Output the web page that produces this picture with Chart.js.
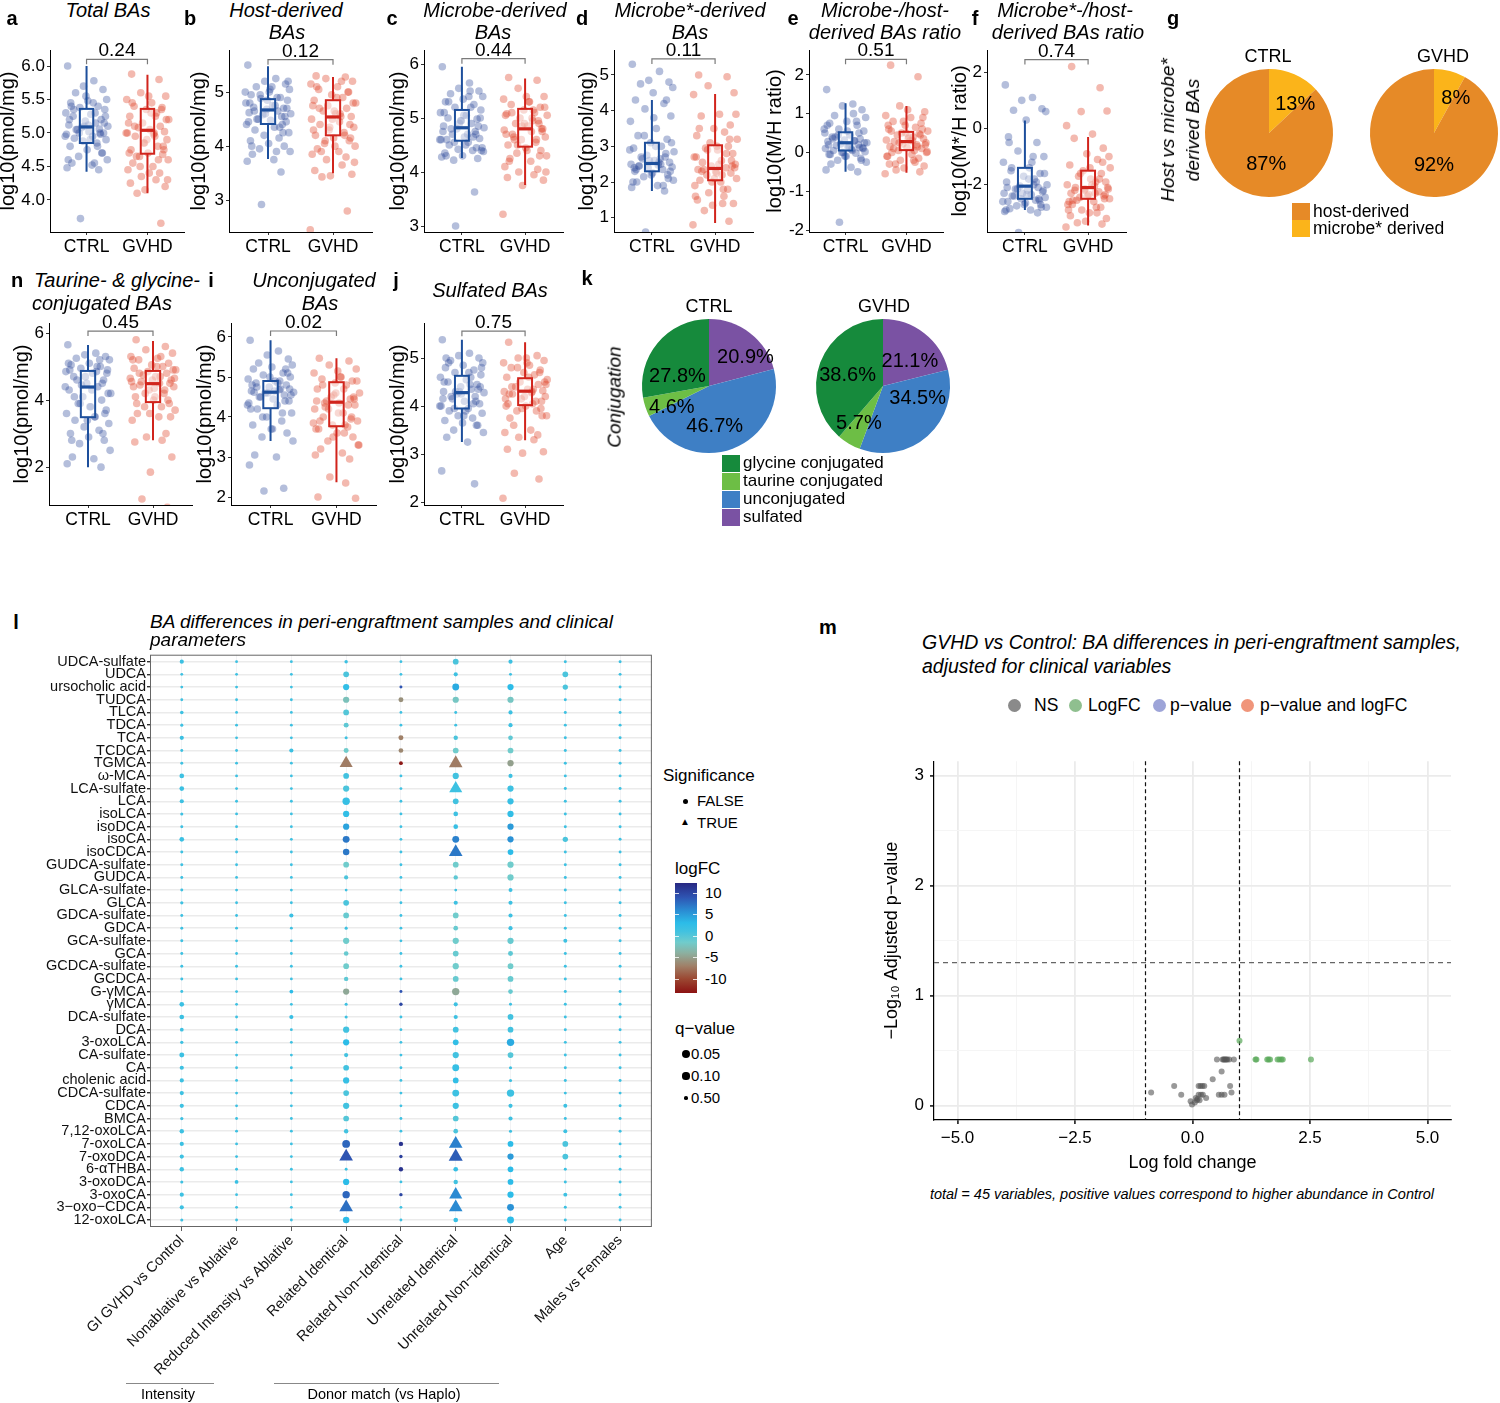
<!DOCTYPE html>
<html>
<head>
<meta charset="utf-8">
<title>Bile acids in GVHD</title>
<script src="https://cdn.jsdelivr.net/npm/chart.js@4.4.1/dist/chart.umd.min.js"></script>
<style>
  body { margin: 0; background: #fff; }
  #fig { position: relative; width: 1500px; height: 1403px; overflow: hidden; background: #fff;
         font-family: "Liberation Sans", Arial, Helvetica, sans-serif; color: #000; }
  #fig canvas { position: absolute; }
  .t { position: absolute; white-space: nowrap; line-height: 1.2; }
</style>
</head>
<body>
<div id="fig"></div>
<script>
const FONT = '"Liberation Sans", Arial, Helvetica, sans-serif';
Chart.defaults.font.family = FONT;
Chart.defaults.color = '#000';

// ---------- box panels a-f, n, i, j ----------
const groups = ['CTRL', 'GVHD'];

// sample values
const totalCtrl = [6.0,5.78,5.7,5.65,5.6,5.5,5.48,5.45,5.4,5.38,5.35,5.3,5.28,5.25,5.2,5.18,5.15,5.12,5.1,5.08,5.06,5.05,5.02,5.0,4.98,4.95,4.92,4.9,4.88,4.85,4.8,4.75,4.7,4.65,4.6,4.55,4.52,4.48,4.45,3.72,
  5.3,5.2,5.15,5.1,5.05,5.0,4.95,4.9,5.25,5.35,5.45,5.55,4.7,4.6,4.8,5.0,5.12,4.98,5.4,4.55];
const totalGvhd = [5.88,5.8,5.6,5.55,5.5,5.45,5.4,5.38,5.35,5.3,5.25,5.2,5.15,5.1,5.08,5.05,5.02,5.0,4.98,4.95,4.9,4.85,4.8,4.75,4.7,4.68,4.65,4.6,4.55,4.5,4.45,4.4,4.35,4.3,4.25,4.2,4.15,4.1,3.65,5.0,
  5.3,5.2,5.1,5.0,4.9,4.8,4.7,4.6,4.5,4.4,5.35,5.45,5.25,5.15,4.95,4.85,4.75,4.65,4.3,5.55];
const hostCtrl = [5.5,5.25,5.2,5.15,5.1,5.05,5.0,4.95,4.9,4.88,4.85,4.8,4.75,4.72,4.7,4.68,4.65,4.62,4.6,4.58,4.55,4.5,4.48,4.45,4.4,4.35,4.3,4.25,4.2,4.15,4.1,4.05,4.0,3.95,3.9,3.85,3.75,3.72,3.52,2.92,
  4.9,4.8,4.7,4.6,4.5,4.4,5.0,5.1,5.2,4.65,4.75,4.85,4.55,4.45,4.35,4.95,5.05,4.25,4.0,3.9];
const hostGvhd = [5.3,5.28,5.25,5.2,5.15,5.1,5.05,5.0,4.95,4.9,4.85,4.8,4.75,4.7,4.65,4.6,4.55,4.5,4.45,4.4,4.35,4.3,4.25,4.2,4.15,4.1,4.05,4.0,3.95,3.9,3.85,3.8,3.75,3.65,3.55,3.48,3.45,3.43,2.8,2.45,
  4.9,4.8,4.7,4.6,4.5,4.4,4.3,4.2,4.1,4.0,5.0,5.1,5.2,4.75,4.55,4.35,4.15,3.9,3.7,4.65];
const microbeCtrl = [5.95,5.65,5.55,5.5,5.45,5.4,5.35,5.3,5.25,5.2,5.15,5.1,5.05,5.0,4.98,4.95,4.9,4.85,4.82,4.8,4.75,4.7,4.65,4.62,4.6,4.55,4.5,4.45,4.42,4.4,4.35,4.3,4.25,4.22,4.38,4.6,4.7,4.28,3.63,3.0,
  5.2,5.1,5.0,4.9,4.8,4.7,4.6,4.5,4.4,5.3,5.4,4.95,4.85,4.75,4.65,4.55,5.05,4.45,4.3,5.5];
const microbeGvhd = [5.75,5.7,5.55,5.4,5.35,5.3,5.25,5.2,5.15,5.1,5.08,5.05,5.0,4.95,4.9,4.85,4.8,4.78,4.75,4.7,4.65,4.6,4.55,4.5,4.45,4.4,4.35,4.3,4.25,4.2,4.1,4.05,4.0,3.95,3.9,3.85,3.75,4.6,4.9,3.22,
  5.3,5.2,5.1,5.0,4.9,4.8,4.7,4.6,4.5,4.4,4.3,4.2,5.15,5.05,4.95,4.85,4.75,4.65,4.0,5.4];
const microbeStarCtrl = [5.3,5.1,4.85,4.8,4.75,4.65,4.5,4.3,4.2,4.05,3.85,3.7,3.5,3.3,3.2,3.1,3.0,2.95,2.85,2.75,2.7,2.65,2.6,2.55,2.5,2.48,2.45,2.42,2.4,2.35,2.3,2.25,2.2,2.15,2.05,2.0,1.9,1.85,1.75,0.6,
  2.5,2.4,2.3,2.6,2.7,2.8,2.9,3.0,3.1,2.45,2.55,2.2,2.1,2.0,1.9,3.3,3.8,4.3,2.35,2.65];
const microbeStarGvhd = [5.0,4.95,4.7,4.5,4.45,3.9,3.85,3.6,3.5,3.4,3.3,3.2,3.1,3.0,2.95,2.9,2.8,2.7,2.6,2.55,2.5,2.45,2.4,2.35,2.3,2.25,2.2,2.1,2.05,2.0,1.9,1.8,1.7,1.6,1.5,1.4,1.35,1.2,0.9,0.8,
  2.5,2.4,2.3,2.2,2.1,2.6,2.7,2.8,2.9,3.0,3.2,3.5,1.8,1.6,1.4,2.0,2.45,2.35,3.9,2.25];
const ratioCtrl = [1.62,1.25,1.2,1.1,0.95,0.9,0.8,0.75,0.7,0.6,0.55,0.5,0.45,0.4,0.35,0.32,0.3,0.28,0.25,0.22,0.2,0.18,0.15,0.12,0.1,0.08,0.05,0.02,0.0,-0.02,-0.05,-0.1,-0.15,-0.2,-0.25,-0.3,-0.38,-0.45,-0.5,-1.8,
  0.3,0.2,0.1,0.0,0.4,0.5,0.6,0.15,0.25,0.35,0.05,-0.1,-0.2,0.7,0.8,0.45,0.55,0.12,-0.05,1.0];
const ratioGvhd = [2.25,1.95,1.2,1.05,0.95,0.9,0.8,0.75,0.7,0.65,0.6,0.55,0.5,0.48,0.45,0.4,0.35,0.32,0.3,0.28,0.25,0.22,0.2,0.15,0.12,0.1,0.05,0.02,0.0,-0.05,-0.1,-0.15,-0.2,-0.25,-0.3,-0.35,-0.4,-0.45,-0.5,-0.55,
  0.3,0.2,0.1,0.4,0.5,0.6,0.7,0.15,0.25,0.35,0.45,0.55,0.05,-0.1,-0.2,0.8,0.9,-0.3,0.0,1.1];
const ratioStarCtrl = [1.55,1.1,1.0,0.7,0.65,0.6,0.3,-0.3,-0.5,-0.8,-1.0,-1.2,-1.4,-1.5,-1.6,-1.7,-1.8,-1.9,-2.0,-2.05,-2.1,-2.15,-2.2,-2.25,-2.3,-2.35,-2.4,-2.45,-2.5,-2.55,-2.6,-2.65,-2.7,-2.75,-2.8,-2.85,-2.9,-2.95,-3.0,-3.7,
  -2.0,-2.1,-2.2,-2.3,-2.4,-2.5,-2.6,-1.8,-1.6,-1.4,-1.2,-2.7,-2.8,-2.9,-1.9,-2.15,-2.35,-2.55,-0.5,-1.0];
const ratioStarGvhd = [2.2,1.45,0.6,0.62,0.1,-0.2,-0.35,-0.7,-0.9,-1.1,-1.3,-1.4,-1.5,-1.6,-1.7,-1.8,-1.9,-2.0,-2.05,-2.1,-2.15,-2.2,-2.25,-2.3,-2.35,-2.4,-2.45,-2.5,-2.55,-2.6,-2.7,-2.8,-2.9,-3.0,-3.1,-3.2,-3.3,-3.35,-3.4,-3.5,
  -2.0,-2.1,-2.2,-2.3,-2.4,-2.5,-2.6,-1.8,-1.6,-1.4,-1.2,-2.7,-2.8,-2.9,-1.9,-2.15,-2.35,-2.55,-1.0,-3.0];
const conjCtrl = [5.65,5.4,5.35,5.3,5.25,5.2,5.1,5.05,5.0,4.95,4.9,4.85,4.8,4.7,4.6,4.5,4.4,4.3,4.2,4.1,4.0,3.9,3.8,3.7,3.6,3.5,3.4,3.3,3.2,3.1,3.0,2.9,2.8,2.7,2.5,2.3,2.25,2.1,2.0,4.45,
  5.0,4.9,4.8,4.7,4.6,4.5,4.4,4.3,4.2,4.1,3.5,3.4,3.6,5.1,5.2,3.9,3.8,3.0,2.8,4.85];
const conjGvhd = [5.8,5.6,5.5,5.4,5.3,5.25,5.2,5.1,5.05,5.0,4.95,4.9,4.85,4.8,4.75,4.7,4.6,4.55,4.5,4.45,4.4,4.3,4.2,4.1,4.0,3.9,3.8,3.7,3.6,3.5,3.4,3.0,2.9,2.8,2.75,2.3,1.85,1.05,0.8,4.65,
  5.0,4.9,4.8,4.7,4.6,4.5,4.4,4.3,4.2,4.1,4.0,3.9,3.8,5.2,5.3,3.6,3.5,4.55,4.65,4.35];
const unconjCtrl = [5.92,5.65,5.55,5.45,5.35,5.3,5.25,5.2,5.1,5.05,5.0,4.95,4.9,4.85,4.8,4.75,4.7,4.65,4.62,4.6,4.55,4.5,4.45,4.4,4.35,4.3,4.2,4.1,4.0,3.9,3.8,3.7,3.6,3.5,3.4,3.05,3.0,2.8,2.22,2.15,
  4.9,4.8,4.7,4.6,4.5,4.4,4.3,4.65,4.55,4.75,4.85,5.0,5.1,4.2,4.1,4.0,3.7,5.2,4.62,4.68];
const unconjGvhd = [5.47,5.4,5.3,5.2,5.1,5.0,4.95,4.9,4.85,4.8,4.7,4.6,4.5,4.45,4.4,4.35,4.3,4.2,4.1,4.0,3.9,3.8,3.75,3.7,3.6,3.5,3.4,3.3,3.2,3.1,3.05,2.95,2.5,2.35,2.0,1.97,4.55,4.25,3.95,3.85,
  5.0,4.9,4.8,4.7,4.6,4.5,4.4,4.3,4.2,4.1,4.0,3.9,3.8,3.7,3.6,3.5,4.45,4.35,3.3,5.15];
const sulfCtrl = [5.38,5.1,5.05,5.0,4.95,4.9,4.85,4.8,4.75,4.7,4.65,4.6,4.55,4.5,4.45,4.4,4.35,4.3,4.28,4.25,4.2,4.15,4.1,4.05,4.0,3.95,3.9,3.85,3.8,3.75,3.7,3.65,3.6,3.5,3.45,3.35,3.25,2.65,2.38,4.3,
  4.6,4.5,4.4,4.3,4.2,4.1,4.0,3.9,4.8,4.9,4.7,4.25,4.35,4.15,4.05,3.95,3.8,3.6,5.0,4.45];
const sulfGvhd = [5.33,5.05,5.0,4.95,4.9,4.85,4.8,4.75,4.7,4.65,4.6,4.55,4.5,4.45,4.4,4.35,4.32,4.3,4.28,4.25,4.2,4.15,4.1,4.05,4.0,3.95,3.9,3.8,3.75,3.5,3.45,3.4,3.35,3.3,3.1,3.05,3.02,2.6,2.48,2.08,
  4.6,4.5,4.4,4.3,4.2,4.1,4.0,3.9,4.8,4.9,4.7,4.25,4.35,4.15,4.05,3.95,3.8,3.6,4.45,5.0];

// box statistics: [lower whisker, Q1, median, Q3, upper whisker]
const totalBoxCtrl = [4.42, 4.85, 5.09, 5.36, 6.0];
const totalBoxGvhd = [4.1, 4.69, 5.04, 5.36, 5.87];
const hostBoxCtrl = [3.76, 4.41, 4.67, 4.87, 5.48];
const hostBoxGvhd = [3.5, 4.2, 4.54, 4.85, 5.28];
const microbeBoxCtrl = [4.26, 4.58, 4.82, 5.15, 5.95];
const microbeBoxGvhd = [3.76, 4.47, 4.8, 5.17, 5.73];
const microbeStarBoxCtrl = [1.75, 2.3, 2.52, 3.1, 4.3];
const microbeStarBoxGvhd = [0.85, 2.05, 2.38, 3.03, 4.47];
const ratioBoxCtrl = [-0.5, 0.05, 0.25, 0.52, 1.27];
const ratioBoxGvhd = [-0.52, 0.06, 0.28, 0.53, 1.2];
const ratioStarBoxCtrl = [-2.9, -2.5, -2.05, -1.4, 0.28];
const ratioStarBoxGvhd = [-3.45, -2.5, -2.1, -1.5, -0.3];
const conjBoxCtrl = [2.0, 3.49, 4.39, 4.87, 5.64];
const conjBoxGvhd = [2.8, 3.94, 4.49, 4.87, 5.76];
const unconjBoxCtrl = [3.4, 4.22, 4.62, 4.9, 5.92];
const unconjBoxGvhd = [2.37, 3.77, 4.37, 4.87, 5.47];
const sulfBoxCtrl = [3.25, 3.95, 4.28, 4.63, 5.38];
const sulfBoxGvhd = [3.29, 4.02, 4.31, 4.58, 5.33];

const pValues = ['0.24', '0.12', '0.44', '0.11', '0.51', '0.74', '0.45', '0.02', '0.75'];

// ---------- pies g, k ----------
const hostMicrobeLabels = ['microbe* derived', 'host-derived'];
const hostMicrobeCtrl = [13, 87];
const hostMicrobeGvhd = [8, 92];
const conjLabels = ['sulfated', 'unconjugated', 'taurine conjugated', 'glycine conjugated'];
const conjShareCtrl = [20.9, 46.7, 4.6, 27.8];
const conjShareGvhd = [21.1, 34.5, 5.7, 38.6];

// ---------- dot plot l ----------
const lRows = ['UDCA-sulfate','UDCA','ursocholic acid','TUDCA','TLCA','TDCA','TCA','TCDCA','TGMCA','ω-MCA','LCA-sulfate','LCA','isoLCA','isoDCA','isoCA','isoCDCA','GUDCA-sulfate','GUDCA','GLCA-sulfate','GLCA','GDCA-sulfate','GDCA','GCA-sulfate','GCA','GCDCA-sulfate','GCDCA','G-γMCA','γMCA','DCA-sulfate','DCA','3-oxoLCA','CA-sulfate','CA','cholenic acid','CDCA-sulfate','CDCA','BMCA','7,12-oxoLCA','7-oxoLCA','7-oxoDCA','6-αTHBA','3-oxoDCA','3-oxoCA','3−oxo−CDCA','12-oxoLCA'];
const lCols = ['GI GVHD vs Control','Nonablative vs Ablative','Reduced Intensity vs Ablative','Related Identical','Related Non−Identical','Unrelated Identical','Unrelated Non−identical','Age','Males vs Females'];

// logFC per column, rows in lRows order
const lfcGiGvhd      = [1.6,1.4,1.5,1.3,1.5, 1.4,1.6,1.5,1.4,1.5, 1.6,1.5,1.4,1.5,1.7, 1.5,1.4,1.5,1.5,1.4, 1.5,1.5,1.4,1.5,1.5, 1.4,1.5,1.7,1.6,1.5, 1.5,1.6,1.5,1.5,1.5, 1.5,1.4,1.5,1.6,1.5, 1.5,1.5,1.5,1.5,1.5];
const lfcNonablative = [1.5,1.4,1.5,1.5,1.6, 1.5,1.5,1.4,1.5,1.5, 1.5,1.5,1.6,1.5,1.5, 1.4,1.5,1.5,1.5,1.5, 1.6,1.5,1.5,1.4,1.5, 1.5,1.5,1.5,1.5,1.6, 1.5,1.5,1.4,1.5,1.5, 1.5,1.5,1.5,1.5,1.6, 1.5,1.8,1.5,1.5,1.5];
const lfcReduced     = [1.5,1.5,1.5,1.5,1.5, 1.5,1.5,1.6,1.5,1.5, 1.5,1.5,1.5,1.5,1.5, 1.5,1.5,1.5,1.5,1.5, 1.7,1.5,1.5,1.5,1.5, 1.5,3.0,1.5,2.0,1.5, 1.5,1.5,1.5,1.5,1.5, 1.5,1.5,1.5,1.5,1.5, 1.5,1.5,1.5,1.5,1.5];
const lfcRelIdent    = [1.5,0.5,2.5,-2.5,0, -0.5,1.5,-1.5,-7.2,1.0, 0.5,2.0,2.5,4.5,7.0, 7.0,-1.5,0.5,1.5,0.5, -1.0,1.5,-1.5,-1.0,-1.5, -0.5,-4.5,1.5,1.5,1.0, 3.0,1.0,1.0,2.0,0.5, 1.0,0.0,1.0,8.0,9.0, 1.5,3.0,8.0,7.5,3.0];
const lfcRelNonIdent = [1.5,1.5,9.0,-6.0,1.5, 1.5,-7.0,-6.5,-13.0,1.5, 1.5,1.5,1.5,1.5,1.5, 1.5,1.5,1.5,1.5,1.5, 1.5,1.5,1.5,1.5,1.5, 1.5,9.0,10.0,1.5,1.5, 1.5,1.5,1.5,1.5,1.5, 1.5,1.5,1.5,11.5,10.5, 11.5,1.5,10.0,1.5,1.5];
const lfcUnrIdent    = [0.5,1.5,4.0,-2.0,1.5, 1.5,0.5,-1.5,-7.2,1.0, 1.5,1.0,1.5,2.0,6.5, 7.0,-1.5,-0.5,1.5,1.5, -1.5,-1.0,-1.5,-1.0,-1.5, -1.0,-4.5,1.5,1.5,1.0, 2.5,1.0,2.0,2.5,1.5, 1.5,0.0,0.5,6.5,8.5, 2.0,1.0,6.0,6.0,2.0];
const lfcUnrNonIdent = [1.5,1.5,3.0,-2.0,1.5, 1.5,-0.5,-1.5,-5.0,1.5, 1.5,2.0,2.5,5.0,5.5, 3.0,-1.5,-1.5,1.5,1.5, 1.5,1.5,-1.0,-0.5,-1.5, -1.0,-1.0,1.5,1.0,1.0, 4.0,0.0,1.5,1.5,1.5, 1.5,1.5,1.5,3.0,5.0, 3.0,3.0,3.0,5.5,3.0];
const lfcAge         = [1.5,0.5,0.5,1.5,1.5, 1.5,1.5,1.5,1.5,1.5, 1.5,1.5,1.5,1.5,0.5, 1.5,1.5,1.5,1.5,1.5, 1.5,1.5,1.5,1.5,1.5, 1.5,1.5,1.5,1.5,1.5, 1.5,1.5,1.5,1.5,1.5, 1.5,1.5,1.5,0.5,0.5, 1.5,1.5,1.5,1.5,1.5];
const lfcSex         = [1.5,1.5,1.5,1.5,1.5, 1.5,1.5,1.5,1.5,1.5, 1.5,1.5,1.5,1.5,1.5, 1.5,1.5,1.5,1.5,1.5, 1.5,1.5,1.5,1.5,1.5, 1.5,1.5,1.5,1.5,1.5, 1.5,1.5,1.5,1.5,1.5, 1.5,1.5,1.5,1.5,1.5, 1.5,1.5,1.5,1.5,1.5];

// q-values per column
const qGiGvhd      = [.5,.9,.9,.9,.65, .8,.5,.85,.85,.4, .4,.5,.8,.85,.4, .85,.85,.85,.85,.75, .85,.85,.85,.85,.85, .85,.85,.4,.4,.6, .75,.35,.5,.5,.5, .5,.75,.45,.5,.5, .45,.8,.5,.5,.8];
const qNonablative = [.9,.9,.9,.9,.9, .9,.9,.9,.9,.9, .9,.9,.9,.9,.9, .9,.9,.9,.9,.9, .9,.9,.9,.9,.9, .9,.9,.9,.9,.9, .9,.9,.9,.9,.9, .9,.9,.9,.9,.9, .9,.6,.9,.9,.9];
const qReduced     = [.9,.9,.9,.9,.9, .9,.9,.5,.9,.9, .9,.9,.9,.9,.9, .9,.9,.9,.9,.9, .5,.9,.9,.9,.9, .9,.6,.9,.5,.9, .9,.9,.9,.9,.9, .9,.9,.9,.9,.9, .9,.9,.9,.9,.9];
const qRelIdent    = [.7,.25,.2,.2,.25, .35,.8,.35,.015,.25, .2,.12,.2,.2,.15, .18,.25,.5,.9,.25, .25,.8,.2,.4,.25, .45,.2,.8,.8,.2, .2,.5,.25,.2,.25, .2,.25,.45,.1,.012, .85,.2,.12,.012,.18];
const qRelNonIdent = [.9,.9,.85,.35,.9, .9,.35,.4,.6,.9, .9,.9,.9,.9,.9, .9,.9,.9,.9,.9, .9,.9,.9,.9,.9, .9,.85,.7,.9,.9, .9,.9,.9,.9,.9, .9,.9,.9,.45,.7, .45,.9,.7,.9,.9];
const qUnrIdent    = [.25,.5,.15,.2,.85, .85,.45,.25,.012,.2, .015,.25,.4,.4,.15, .012,.25,.45,.9,.5, .25,.4,.2,.25,.2, .25,.12,.5,.5,.25, .25,.2,.15,.25,.15, .2,.25,.4,.012,.01, .4,.45,.015,.012,.4];
const qUnrNonIdent = [.5,.85,.2,.2,.5, .5,.4,.25,.2,.5, .2,.2,.2,.2,.2, .25,.2,.2,.55,.5, .5,.5,.2,.35,.25, .25,.4,.85,.25,.25, .12,.25,.8,.8,.12, .5,.5,.8,.25,.2, .25,.25,.2,.15,.15];
const qAge         = [.85,.25,.3,.85,.85, .85,.85,.85,.85,.85, .85,.85,.85,.85,.3, .85,.85,.85,.85,.85, .85,.85,.55,.85,.85, .85,.85,.85,.85,.85, .85,.85,.85,.85,.85, .55,.85,.55,.25,.25, .85,.85,.55,.85,.85];
const qSex         = [.85,.85,.85,.85,.85, .85,.85,.85,.85,.85, .85,.85,.85,.85,.85, .85,.85,.85,.85,.85, .85,.85,.85,.85,.85, .85,.85,.85,.85,.85, .85,.85,.85,.85,.85, .85,.85,.85,.85,.85, .85,.85,.85,.85,.85];

// significant cells: [row, column]
const sigCells = [[8,3],[39,3],[43,3],[8,5],[10,5],[15,5],[38,5],[39,5],[42,5],[43,5]];

// ---------- volcano m ----------
const volcLogFC = [1.0,1.34,1.36,1.59,1.65,1.81,1.89,1.92,2.52, 0.52,0.64,0.68,0.74,0.78,0.88, 0.62,0.43,0.80,-0.39,0.13,0.21,-0.88,-0.24,0.83,0.56,0.62,0.68,0.13,0.22,0.07,0.29,0.15,-0.04,-0.01,0.09, 0.70,0.72,0.17,0.25,0.18,0.11,0.66,1.62,1.85,0.05];
const volcNegLogP = [0.59,0.42,0.42,0.42,0.42,0.42,0.42,0.42,0.42, 0.42,0.42,0.42,0.42,0.42,0.42, 0.31,0.24,0.18,0.18,0.18,0.18,0.12,0.10,0.12,0.10,0.10,0.10,0.10,0.10,0.07,0.07,0.05,0.04,0.01,0.05, 0.42,0.42,0.18,0.18,0.10,0.06,0.42,0.42,0.42,0.03];
const fcCutoff = 1;
const pCutoff = 1.3;

// ---------- helpers ----------
const fig = document.getElementById('fig');

function addCanvas(x, y, w, h) {
  const c = document.createElement('canvas');
  c.width = w; c.height = h;
  c.style.left = x + 'px'; c.style.top = y + 'px';
  c.style.width = w + 'px'; c.style.height = h + 'px';
  fig.appendChild(c);
  return c;
}

// text centred vertically on y; anchor l / c / r
function txt(html, x, y, css, anchor, rot) {
  const d = document.createElement('div');
  d.className = 't';
  d.innerHTML = html;
  d.style.cssText += 'left:' + x + 'px;top:' + y + 'px;' + (css || '');
  const ax = anchor === 'l' ? '0' : anchor === 'r' ? '-100%' : '-50%';
  d.style.transform = 'translate(' + ax + ',-50%)' + (rot ? ' rotate(' + rot + 'deg)' : '');
  fig.appendChild(d);
  return d;
}

function box(x, y, w, h, css) {
  const d = document.createElement('div');
  d.style.cssText = 'position:absolute;left:' + x + 'px;top:' + y + 'px;width:' + w + 'px;height:' + h + 'px;' + css;
  fig.appendChild(d);
  return d;
}

// ---------- box + jitter panels ----------
const jitter = [-0.31,0.12,-0.05,0.27,-0.18,0.33,0.02,-0.26,0.19,-0.11,0.3,-0.34,0.07,-0.22,0.24,-0.02,0.15,-0.29,0.35,-0.08,
  0.21,-0.15,0.04,0.28,-0.33,0.1,-0.2,0.32,-0.06,0.17,-0.27,0.01,0.25,-0.13,0.34,-0.24,0.09,-0.32,0.2,-0.1,
  0.14,-0.28,0.29,-0.04,-0.17,0.22,-0.35,0.06,0.31,-0.21,0.11,-0.01,0.26,-0.3,0.18,-0.12,0.03,0.23,-0.25,0.13];

function boxLayer(p) {
  return {
    id: 'boxLayer',
    afterDatasetsDraw(chart) {
      const { ctx, scales: { x, y } } = chart;
      const px = v => x.getPixelForValue(v), py = v => y.getPixelForValue(v);
      const half = 0.11;
      [[1, p.boxC, '#1D4F9C'], [2, p.boxG, '#D1241C']].forEach(([cx, b, col]) => {
        const [lo, q1, md, q3, hi] = b;
        const xl = px(cx - half), xr = px(cx + half), xc = px(cx);
        ctx.save();
        ctx.strokeStyle = col;
        ctx.lineWidth = 2;
        ctx.beginPath();
        ctx.moveTo(xc, py(hi)); ctx.lineTo(xc, py(q3));
        ctx.moveTo(xc, py(q1)); ctx.lineTo(xc, py(lo));
        ctx.stroke();
        ctx.fillStyle = 'rgba(255,255,255,0.45)';
        ctx.fillRect(xl, py(q3), xr - xl, py(q1) - py(q3));
        ctx.strokeRect(xl, py(q3), xr - xl, py(q1) - py(q3));
        ctx.lineWidth = 3.2;
        ctx.beginPath(); ctx.moveTo(xl, py(md)); ctx.lineTo(xr, py(md)); ctx.stroke();
        ctx.restore();
      });
      // p-value bracket
      const yb = py(p.bracket), x1 = px(1), x2 = px(2);
      ctx.save();
      ctx.strokeStyle = '#7a7a7a';
      ctx.lineWidth = 1.2;
      ctx.beginPath();
      ctx.moveTo(x1, yb + 5); ctx.lineTo(x1, yb); ctx.lineTo(x2, yb); ctx.lineTo(x2, yb + 5);
      ctx.stroke();
      ctx.fillStyle = '#000';
      ctx.font = '19px ' + FONT;
      ctx.textAlign = 'center';
      ctx.fillText(p.p, (x1 + x2) / 2, yb - 3);
      ctx.restore();
    }
  };
}

function boxChart(p) {
  const padTop = 26, xh = 26, padRight = 6;
  const w = Math.round(p.yw + 2.2 * p.u + padRight);
  const h = padTop + (p.bottom - p.top) + xh;
  const cv = addCanvas(p.ax - p.yw, p.top - padTop, w, h);
  const pts = (vals, cx, shift) => vals.map((v, i) => ({ x: cx + jitter[(i + shift) % jitter.length], y: v }));
  new Chart(cv, {
    type: 'scatter',
    data: {
      datasets: [
        { data: pts(p.ctrl, 1, 0), backgroundColor: 'rgba(46,76,156,0.36)', borderWidth: 0, pointRadius: 3.8 },
        { data: pts(p.gvhd, 2, 7), backgroundColor: 'rgba(224,72,46,0.38)', borderWidth: 0, pointRadius: 3.8 }
      ]
    },
    options: {
      responsive: false, animation: false, devicePixelRatio: 1,
      layout: { padding: { top: padTop, right: padRight, left: 0, bottom: 0 } },
      plugins: { legend: { display: false }, tooltip: { enabled: false } },
      scales: {
        x: {
          type: 'linear', min: 0.4, max: 2.6,
          afterFit: s => { s.height = xh; },
          ticks: { stepSize: 1, includeBounds: false, autoSkip: false, maxRotation: 0, padding: 2,
                   font: { size: 17.5 }, color: '#000', callback: v => groups[v - 1] || '' },
          grid: { drawOnChartArea: false, tickLength: 3, tickColor: '#333' },
          border: { color: '#000', width: 1 }
        },
        y: {
          min: p.ymin, max: p.ymax,
          afterFit: s => { s.width = p.yw; },
          ticks: { stepSize: p.step, includeBounds: false, padding: 2, font: { size: 17 }, color: '#000',
                   callback: v => v.toFixed(p.dec) },
          grid: { drawOnChartArea: false, tickLength: 3, tickColor: '#333' },
          border: { color: '#000', width: 1 },
          title: { display: true, text: p.ytitle, font: { size: 20, lineHeight: 1.2 }, padding: 0, color: '#000' }
        }
      }
    },
    plugins: [boxLayer(p)]
  });
}

const pm = 'log10(pmol/mg)';
const boxPanels = [
  { ctrl: totalCtrl, gvhd: totalGvhd, boxC: totalBoxCtrl, boxG: totalBoxGvhd, p: pValues[0],
    ax: 50, u: 61, top: 50, bottom: 232, yw: 54, ymin: 3.52, ymax: 6.24, step: 0.5, dec: 1, ytitle: pm, bracket: 6.1 },
  { ctrl: hostCtrl, gvhd: hostGvhd, boxC: hostBoxCtrl, boxG: hostBoxGvhd, p: pValues[1],
    ax: 229, u: 65, top: 50, bottom: 232, yw: 42, ymin: 2.41, ymax: 5.78, step: 1, dec: 0, ytitle: pm, bracket: 5.6 },
  { ctrl: microbeCtrl, gvhd: microbeGvhd, boxC: microbeBoxCtrl, boxG: microbeBoxGvhd, p: pValues[2],
    ax: 424, u: 63, top: 50, bottom: 232, yw: 38, ymin: 2.89, ymax: 6.26, step: 1, dec: 0, ytitle: pm, bracket: 6.1 },
  { ctrl: microbeStarCtrl, gvhd: microbeStarGvhd, boxC: microbeStarBoxCtrl, boxG: microbeStarBoxGvhd, p: pValues[3],
    ax: 614, u: 63, top: 50, bottom: 232, yw: 39, ymin: 0.6, ymax: 5.7, step: 1, dec: 0, ytitle: pm, bracket: 5.45 },
  { ctrl: ratioCtrl, gvhd: ratioGvhd, boxC: ratioBoxCtrl, boxG: ratioBoxGvhd, p: pValues[4],
    ax: 809, u: 61, top: 50, bottom: 232, yw: 46, ymin: -2.05, ymax: 2.64, step: 1, dec: 0, ytitle: 'log10(M/H ratio)', bracket: 2.4 },
  { ctrl: ratioStarCtrl, gvhd: ratioStarGvhd, boxC: ratioStarBoxCtrl, boxG: ratioStarBoxGvhd, p: pValues[5],
    ax: 987, u: 63, top: 50, bottom: 232, yw: 39, ymin: -3.68, ymax: 2.79, step: 2, dec: 0, ytitle: 'log10(M*/H ratio)', bracket: 2.45 },
  { ctrl: conjCtrl, gvhd: conjGvhd, boxC: conjBoxCtrl, boxG: conjBoxGvhd, p: pValues[6],
    ax: 49, u: 65, top: 323, bottom: 505, yw: 39, ymin: 0.87, ymax: 6.3, step: 2, dec: 0, ytitle: pm, bracket: 6.06 },
  { ctrl: unconjCtrl, gvhd: unconjGvhd, boxC: unconjBoxCtrl, boxG: unconjBoxGvhd, p: pValues[7],
    ax: 231, u: 66, top: 323, bottom: 505, yw: 38, ymin: 1.8, ymax: 6.35, step: 1, dec: 0, ytitle: pm, bracket: 6.15 },
  { ctrl: sulfCtrl, gvhd: sulfGvhd, boxC: sulfBoxCtrl, boxG: sulfBoxGvhd, p: pValues[8],
    ax: 424, u: 63, top: 323, bottom: 505, yw: 38, ymin: 1.94, ymax: 5.73, step: 1, dec: 0, ytitle: pm, bracket: 5.56 }
];
boxPanels.forEach(boxChart);

// panel titles
const ttl = 'font-size:20px;font-style:italic;';
txt('Total BAs', 108, 10, ttl);
txt('Host-derived', 286, 10, ttl); txt('BAs', 287, 32, ttl);
txt('Microbe-derived', 495, 10, ttl); txt('BAs', 493, 32, ttl);
txt('Microbe*-derived', 690, 10, ttl); txt('BAs', 690, 32, ttl);
txt('Microbe-/host-', 885, 10, ttl); txt('derived BAs ratio', 885, 32, ttl);
txt('Microbe*-/host-', 1065, 10, ttl); txt('derived BAs ratio', 1068, 32, ttl);
txt('Taurine- &amp; glycine-', 117, 280, ttl); txt('conjugated BAs', 102, 303, ttl);
txt('Unconjugated', 314, 280, ttl); txt('BAs', 320, 303, ttl);
txt('Sulfated BAs', 490, 290, ttl);

// panel letters
const let_ = 'font-size:20px;font-weight:bold;';
[['a',12,18],['b',190,18],['c',392,18],['d',582,18],['e',793,18],['f',975,18],['g',1173,18],
 ['n',17,280],['i',211,280],['j',396,280],['k',587,278],['l',16,622],['m',828,627]]
  .forEach(([s, x, y]) => txt(s, x, y, let_));

// ---------- pies ----------
function pieText(spots, dec) {
  return {
    id: 'pieText',
    afterDatasetsDraw(chart) {
      const { ctx } = chart;
      const meta = chart.getDatasetMeta(0);
      const vals = chart.data.datasets[0].data;
      ctx.save();
      ctx.font = '20px ' + FONT;
      ctx.fillStyle = '#000';
      ctx.textAlign = 'center';
      ctx.textBaseline = 'middle';
      meta.data.forEach((arc, i) => {
        const [deg, fr] = spots[i];
        const a = (deg - 90) * Math.PI / 180;
        ctx.fillText(vals[i].toFixed(dec) + '%', arc.x + Math.cos(a) * arc.outerRadius * fr, arc.y + Math.sin(a) * arc.outerRadius * fr);
      });
      ctx.restore();
    }
  };
}

function pieChart(cx, cy, r, labels, vals, colors, spots, dec) {
  const pad = 30;
  const cv = addCanvas(cx - r - pad, cy - r - pad, 2 * (r + pad), 2 * (r + pad));
  new Chart(cv, {
    type: 'pie',
    data: { labels: labels, datasets: [{ data: vals, backgroundColor: colors, borderWidth: 0 }] },
    options: {
      responsive: false, animation: false, devicePixelRatio: 1,
      layout: { padding: pad },
      plugins: { legend: { display: false }, tooltip: { enabled: false } }
    },
    plugins: [pieText(spots, dec)]
  });
}

const hmColors = ['#FBB41A', '#E68A27'];
pieChart(1269, 133, 64, hostMicrobeLabels, hostMicrobeCtrl, hmColors, [[43, 0.6], [185, 0.5]], 0);
pieChart(1434, 133, 64, hostMicrobeLabels, hostMicrobeGvhd, hmColors, [[32, 0.64], [180, 0.5]], 0);
txt('CTRL', 1268, 57, 'font-size:18px;');
txt('GVHD', 1443, 57, 'font-size:18px;');
box(1292, 203, 18, 17, 'background:#E68A27;');
box(1292, 220, 18, 17, 'background:#FBB41A;');
txt('host-derived', 1313, 211, 'font-size:17.5px;', 'l');
txt('microbe* derived', 1313, 228, 'font-size:17.5px;', 'l');
txt('Host vs microbe*<br>derived BAs', 1180, 130, 'font-size:19px;font-style:italic;text-align:center;line-height:25px;', 'c', -90);

const conjColors = ['#7A52A3', '#3E7FC5', '#6DBE45', '#168A3C'];
pieChart(709, 386, 67, conjLabels, conjShareCtrl, conjColors, [[52, 0.69], [172, 0.61], [240, 0.64], [286, 0.49]], 1);
pieChart(883, 386, 67, conjLabels, conjShareGvhd, conjColors, [[48, 0.54], [110, 0.55], [213, 0.66], [286, 0.55]], 1);
txt('CTRL', 709, 307, 'font-size:18px;');
txt('GVHD', 884, 307, 'font-size:18px;');
txt('Conjugation', 615, 397, 'font-size:19px;font-style:italic;', 'c', -90);
[['glycine conjugated', '#168A3C'], ['taurine conjugated', '#6DBE45'], ['unconjugated', '#3E7FC5'], ['sulfated', '#7A52A3']]
  .forEach(([s, col], i) => {
    box(722, 455 + i * 18, 18, 17, 'background:' + col + ';');
    txt(s, 743, 463 + i * 18, 'font-size:17px;', 'l');
  });

// ---------- dot plot l ----------
const lfcStops = [
  [-13.3, [140, 18, 18]], [-10, [155, 72, 50]], [-7, [160, 128, 104]], [-4, [140, 176, 160]],
  [-1.5, [112, 204, 204]], [1, [66, 194, 224]], [3, [44, 188, 232]], [6, [42, 138, 210]],
  [9, [46, 84, 178]], [12.3, [40, 40, 130]]
];
function lfcColor(v) {
  for (let i = 1; i < lfcStops.length; i++) {
    const [v1, c1] = lfcStops[i];
    if (v <= v1 || i === lfcStops.length - 1) {
      const [v0, c0] = lfcStops[i - 1];
      const t = Math.max(0, Math.min(1, (v - v0) / (v1 - v0)));
      return 'rgb(' + c0.map((c, k) => Math.round(c + (c1[k] - c) * t)).join(',') + ')';
    }
  }
}
const qRadius = q => 1.3 + 2.6 * -Math.log10(q);

const lfcByCol = [lfcGiGvhd, lfcNonablative, lfcReduced, lfcRelIdent, lfcRelNonIdent, lfcUnrIdent, lfcUnrNonIdent, lfcAge, lfcSex];
const qByCol = [qGiGvhd, qNonablative, qReduced, qRelIdent, qRelNonIdent, qUnrIdent, qUnrNonIdent, qAge, qSex];
const lPoints = [];
lfcByCol.forEach((col, c) => col.forEach((v, r) => {
  lPoints.push({ x: c, y: r, lfc: v, q: qByCol[c][r], sig: sigCells.some(([rr, cc]) => rr === r && cc === c) });
}));

const lFrame = {
  id: 'lFrame',
  afterDraw(chart) {
    const { ctx, chartArea: a } = chart;
    ctx.save();
    ctx.strokeStyle = '#666';
    ctx.lineWidth = 1;
    ctx.strokeRect(a.left + 0.5, a.top + 0.5, a.right - a.left - 1, a.bottom - a.top - 1);
    ctx.restore();
  }
};

const lCanvas = addCanvas(0, 645, 660, 740);
new Chart(lCanvas, {
  type: 'scatter',
  data: {
    datasets: [{
      data: lPoints,
      pointStyle: c => (c.raw && c.raw.sig ? 'triangle' : 'circle'),
      pointRadius: c => (c.raw ? qRadius(c.raw.q) * (c.raw.sig ? 1.25 : 1) : 2),
      backgroundColor: c => (c.raw ? lfcColor(c.raw.lfc) : '#4cc'),
      borderWidth: 0
    }]
  },
  options: {
    responsive: false, animation: false, devicePixelRatio: 1,
    layout: { padding: { top: 7, right: 7, left: 0, bottom: 0 } },
    plugins: { legend: { display: false }, tooltip: { enabled: false } },
    scales: {
      x: {
        type: 'linear', min: -0.58, max: 8.58,
        afterFit: s => { s.height = 158; },
        ticks: { stepSize: 1, includeBounds: false, autoSkip: false, minRotation: 45, maxRotation: 45, padding: 1,
                 font: { size: 14.5 }, color: '#111', callback: v => lCols[v] },
        grid: { color: '#EDEFF1', lineWidth: 0.8, tickLength: 4, tickColor: '#333' },
        border: { display: false }
      },
      y: {
        type: 'linear', min: -0.55, max: 44.55, reverse: true,
        afterFit: s => { s.width = 150; },
        ticks: { stepSize: 1, includeBounds: false, autoSkip: false, padding: 1,
                 font: { size: 14.5 }, color: '#111', callback: v => lRows[v] },
        grid: { color: '#EBEBEB', lineWidth: 1.4, tickLength: 3, tickColor: '#333' },
        border: { display: false }
      }
    }
  },
  plugins: [lFrame]
});

txt('BA differences in peri-engraftment samples and clinical', 150, 622, 'font-size:19px;font-style:italic;', 'l');
txt('parameters', 150, 640, 'font-size:19px;font-style:italic;', 'l');
box(126, 1383, 88, 0, 'border-top:1.5px solid #888;');
box(274, 1383, 225, 0, 'border-top:1.5px solid #888;');
txt('Intensity', 168, 1395, 'font-size:14.5px;');
txt('Donor match (vs Haplo)', 384, 1395, 'font-size:14.5px;');

// legend of l
txt('Significance', 663, 776, 'font-size:17px;', 'l');
box(682.5, 798.5, 5, 5, 'background:#000;border-radius:50%;');
txt('FALSE', 697, 801, 'font-size:15px;', 'l');
txt('▲', 685, 822, 'font-size:10px;');
txt('TRUE', 697, 823, 'font-size:15px;', 'l');
txt('logFC', 675, 869, 'font-size:17px;', 'l');
const cbTop = 883, cbH = 110, cbMax = 12.3, cbMin = -13.3;
const grad = lfcStops.slice().reverse()
  .map(([v, c]) => 'rgb(' + c.join(',') + ') ' + ((cbMax - v) / (cbMax - cbMin) * 100).toFixed(1) + '%').join(',');
box(675, cbTop, 22, cbH, 'background:linear-gradient(to bottom,' + grad + ');');
[10, 5, 0, -5, -10].forEach(v => {
  const yy = cbTop + (cbMax - v) / (cbMax - cbMin) * cbH;
  box(675, yy, 4, 0, 'border-top:1px solid rgba(255,255,255,0.8);');
  box(693, yy, 4, 0, 'border-top:1px solid rgba(255,255,255,0.8);');
  txt(String(v), 705, yy, 'font-size:15px;', 'l');
});
txt('q−value', 675, 1029, 'font-size:17px;', 'l');
[[0.05, 1054, '0.05'], [0.10, 1076, '0.10'], [0.50, 1098, '0.50']].forEach(([q, yy, s]) => {
  const r = qRadius(q) * 0.9;
  box(686 - r, yy - r, 2 * r, 2 * r, 'background:#000;border-radius:50%;');
  txt(s, 691, yy, 'font-size:15px;', 'l');
});

// ---------- volcano m ----------
const volcColor = (fc, p) => (Math.abs(fc) >= fcCutoff && p >= pCutoff) ? 'rgba(240,130,100,0.8)'
  : (p >= pCutoff) ? 'rgba(140,150,210,0.8)'
  : (Math.abs(fc) >= fcCutoff) ? 'rgba(88,168,88,0.7)' : 'rgba(85,85,85,0.6)';
const volcPoints = volcLogFC.map((fc, i) => ({ x: fc, y: volcNegLogP[i] }));
const major = (v, step) => Math.abs(v / step - Math.round(v / step)) < 1e-6;

const cutLines = {
  id: 'cutLines',
  beforeDatasetsDraw(chart) {
    const { ctx, chartArea: a, scales: { x, y } } = chart;
    ctx.save();
    ctx.lineWidth = 1.2;
    ctx.strokeStyle = '#111';
    ctx.setLineDash([4, 3]);
    [-fcCutoff, fcCutoff].forEach(v => {
      const xx = x.getPixelForValue(v);
      ctx.beginPath(); ctx.moveTo(xx, a.top); ctx.lineTo(xx, a.bottom); ctx.stroke();
    });
    ctx.strokeStyle = '#666';
    ctx.setLineDash([5, 4]);
    const yy = y.getPixelForValue(pCutoff);
    ctx.beginPath(); ctx.moveTo(a.left, yy); ctx.lineTo(a.right, yy); ctx.stroke();
    ctx.restore();
  }
};

const vCanvas = addCanvas(870, 745, 590, 435);
new Chart(vCanvas, {
  type: 'scatter',
  data: {
    datasets: [{
      data: volcPoints,
      pointRadius: 3,
      borderWidth: 0,
      backgroundColor: c => (c.raw ? volcColor(c.raw.x, c.raw.y) : '#777')
    }]
  },
  options: {
    responsive: false, animation: false, devicePixelRatio: 1,
    layout: { padding: { top: 7, right: 9, left: 0, bottom: 0 } },
    plugins: { legend: { display: false }, tooltip: { enabled: false } },
    scales: {
      x: {
        type: 'linear', min: -5.5, max: 5.5,
        afterFit: s => { s.height = 60; },
        ticks: { stepSize: 1.25, includeBounds: false, autoSkip: false, maxRotation: 0, padding: 4,
                 font: { size: 17 }, color: '#000',
                 callback: v => major(v, 2.5) ? v.toFixed(1).replace('-', '−') : '' },
        grid: {
          color: c => (c.tick && major(c.tick.value, 2.5)) ? '#EBEBEB' : '#F5F5F5',
          lineWidth: c => (c.tick && major(c.tick.value, 2.5)) ? 1.8 : 1,
          tickColor: c => (c.tick && major(c.tick.value, 2.5)) ? '#333' : 'rgba(0,0,0,0)',
          tickLength: 4
        },
        border: { color: '#000', width: 1.2 },
        title: { display: true, text: 'Log fold change', font: { size: 18, lineHeight: 1.2 }, padding: { top: 0, bottom: 6 }, color: '#000' }
      },
      y: {
        type: 'linear', min: -0.13, max: 3.13,
        afterFit: s => { s.width = 64; },
        ticks: { stepSize: 0.5, includeBounds: false, autoSkip: false, padding: 6,
                 font: { size: 17 }, color: '#000',
                 callback: v => major(v, 1) ? String(Math.round(v)) : '' },
        grid: {
          color: c => (c.tick && major(c.tick.value, 1)) ? '#EBEBEB' : '#F5F5F5',
          lineWidth: c => (c.tick && major(c.tick.value, 1)) ? 1.8 : 1,
          tickColor: c => (c.tick && major(c.tick.value, 1)) ? '#333' : 'rgba(0,0,0,0)',
          tickLength: 4
        },
        border: { color: '#000', width: 1.2 },
        title: { display: true, text: '−Log₁₀ Adjusted p−value', font: { size: 18, lineHeight: 1.2 }, padding: { top: 11, bottom: 0 }, color: '#000' }
      }
    }
  },
  plugins: [cutLines]
});

txt('GVHD vs Control: BA differences in peri-engraftment samples,', 922, 643, 'font-size:19.5px;font-style:italic;', 'l');
txt('adjusted for clinical variables', 922, 667, 'font-size:19.5px;font-style:italic;', 'l');
[['NS', '#8A8A8A', 1014, 1034], ['LogFC', '#8FBF8F', 1075, 1088], ['p−value', '#9DA4D8', 1159, 1170], ['p−value and logFC', '#F0957A', 1247, 1260]]
  .forEach(([s, col, cx, tx]) => {
    box(cx - 6.5, 705 - 6.5, 13, 13, 'background:' + col + ';border-radius:50%;');
    txt(s, tx, 705, 'font-size:17.5px;', 'l');
  });
txt('total = 45 variables, positive values correspond to higher abundance in Control', 1182, 1195, 'font-size:14.5px;font-style:italic;');
</script>
</body>
</html>
